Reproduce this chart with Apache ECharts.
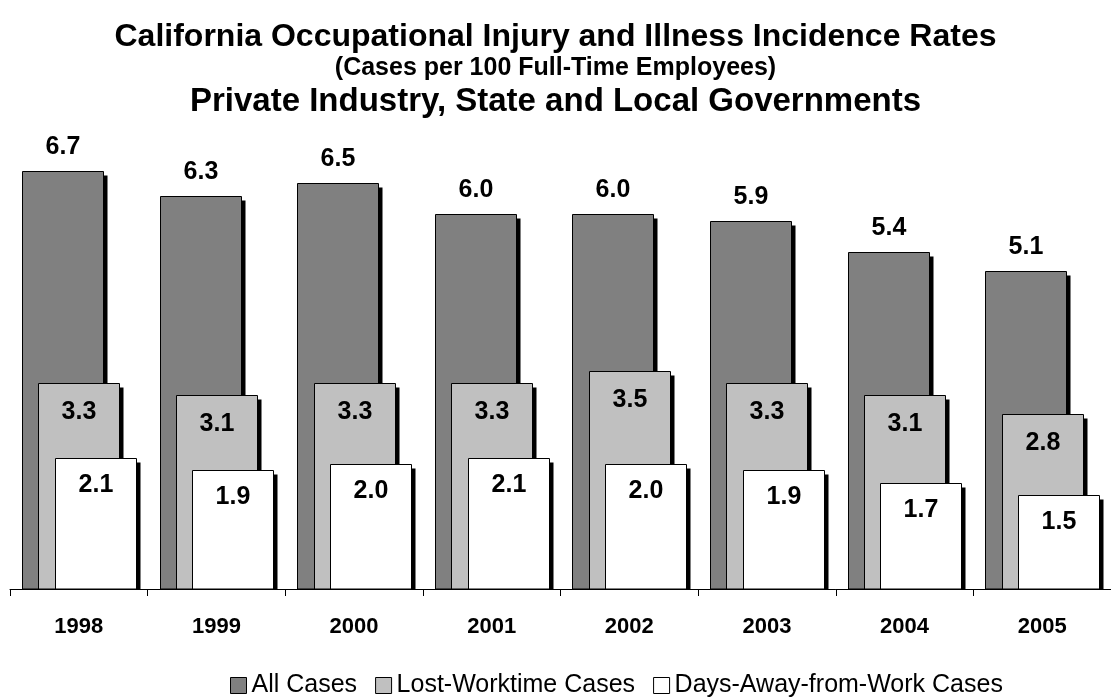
<!DOCTYPE html>
<html>
<head>
<meta charset="utf-8">
<script src="https://cdn.jsdelivr.net/npm/echarts@6/dist/echarts.min.js"></script>
<style>html,body{margin:0;padding:0;background:#fff;}#c{width:1111px;height:698px;}</style>
</head>
<body>
<div id="c"></div>
<script>
var years = ['1998','1999','2000','2001','2002','2003','2004','2005'];
var allCases = [6.7, 6.3, 6.5, 6.0, 6.0, 5.9, 5.4, 5.1];
var lostWorktime = [3.3, 3.1, 3.3, 3.3, 3.5, 3.3, 3.1, 2.8];
var daysAway = [2.1, 1.9, 2.0, 2.1, 2.0, 1.9, 1.7, 1.5];
var seriesNames = ['All Cases', 'Lost-Worktime Cases', 'Days-Away-from-Work Cases'];
var seriesColors = ['#808080', '#c0c0c0', '#ffffff'];

var FONT = '"Liberation Sans", Arial, Helvetica, sans-serif';

function toPairs(arr) { return arr.map(function (v, i) { return [i, v]; }); }

function makeSeries(idx, values) {
  return {
    name: seriesNames[idx], type: 'custom',
    itemStyle: {color: seriesColors[idx], borderColor: '#000', borderWidth: 1},
    encode: {x: 0, y: 1},
    data: toPairs(values),
    renderItem: function (params, api) {
      var cat = api.value(0), val = api.value(1);
      var top = api.coord([cat, val]);
      var base = api.coord([cat, 0]);
      var band = api.size([1, 0])[0];
      var w = Math.round(band * 0.592);
      var off = (idx - 1) * band * 0.119;
      var x = Math.round(top[0] + off - w / 2) + 0.5;
      var y = Math.round(top[1]) + 0.5;
      var by = Math.round(base[1]);
      var h = by - y;
      var labelY, va;
      if (idx === 0) { labelY = y - 12; va = 'bottom'; }
      else { labelY = y + (idx === 1 ? 16 : 14); va = 'top'; }
      return {
        type: 'group',
        children: [
          {type: 'rect', shape: {x: x + 4, y: y + 4, width: w, height: h - 4}, style: {fill: '#000'}},
          {type: 'rect', shape: {x: x, y: y, width: w, height: h},
           style: {fill: seriesColors[idx], stroke: '#000', lineWidth: 1}},
          {type: 'text', style: {text: val.toFixed(1), x: x + w / 2, y: labelY,
            align: 'center', verticalAlign: va, fill: '#000',
            font: 'bold 25px ' + FONT}}
        ]
      };
    }
  };
}

var chart = echarts.init(document.getElementById('c'), null, {renderer: 'canvas'});
chart.setOption({
  animation: false,
  backgroundColor: '#fff',
  title: [
    {text: 'California Occupational Injury and Illness Incidence Rates', left: 'center', top: 16,
     textStyle: {fontFamily: FONT, fontWeight: 'bold', fontSize: 32, color: '#000'}},
    {text: '(Cases per 100 Full-Time Employees)', left: 'center', top: 51,
     textStyle: {fontFamily: FONT, fontWeight: 'bold', fontSize: 25, color: '#000'}},
    {text: 'Private Industry, State and Local Governments', left: 'center', top: 80,
     textStyle: {fontFamily: FONT, fontWeight: 'bold', fontSize: 33, color: '#000'}}
  ],
  legend: {
    left: 225, top: 668, itemWidth: 16, itemHeight: 16, itemGap: 18,
    icon: 'rect',
    textStyle: {fontFamily: FONT, fontSize: 25, color: '#000'},
    itemStyle: {borderColor: '#000', borderWidth: 1},
    data: seriesNames
  },
  grid: {left: 10, right: -8, top: 152, bottom: 109, containLabel: false},
  xAxis: {
    type: 'category', data: years,
    axisLine: {lineStyle: {color: '#000', width: 1}},
    axisTick: {show: true, length: 7, lineStyle: {color: '#000'}},
    axisLabel: {margin: 27, fontFamily: FONT, fontWeight: 'bold', fontSize: 22, color: '#000'}
  },
  yAxis: {type: 'value', min: 0, max: 7, show: false, splitLine: {show: false}},
  series: [
    makeSeries(0, allCases),
    makeSeries(1, lostWorktime),
    makeSeries(2, daysAway)
  ]
});
</script>
</body>
</html>
